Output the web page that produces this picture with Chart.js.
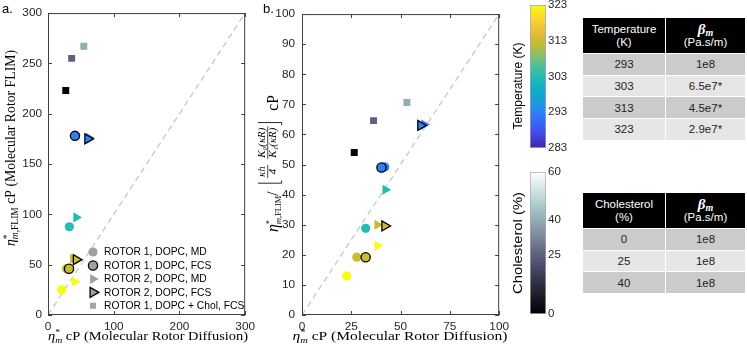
<!DOCTYPE html>
<html>
<head>
<meta charset="utf-8">
<title>Molecular rotor viscosity</title>
<script src="https://cdn.jsdelivr.net/npm/chart.js@4.4.1/dist/chart.umd.min.js"></script>
<style>
  html, body { margin: 0; padding: 0; background: #fff; }
  body { position: relative; width: 747px; height: 354px; overflow: hidden; font-family: "Liberation Sans", Arial, sans-serif; }
  canvas { position: absolute; }
  .tb { position: absolute; left: 582px; width: 163px; border-collapse: collapse; table-layout: fixed; font-size: 11.5px; color: #1e1e1e; }
  .tb td { padding: 0; text-align: center; vertical-align: middle; border: 1px solid #fff; }
  .tb tr.h td { background: #000; color: #fff; height: 35px; line-height: 12.5px; }
  .tb tr.d td { background: #cbcbcb; height: 20.7px; }
  .tb tr.l td { background: #e6e6e6; height: 20.7px; }
  .beta { font: bold italic 15px "Liberation Serif", serif; line-height: 13px; }
  .beta sub { font-size: 10px; vertical-align: -2px; line-height: 0; }
</style>
</head>
<body>
<canvas id="ca" width="260" height="354" style="left:0;top:0"></canvas>
<canvas id="cb" width="256" height="354" style="left:258px;top:0"></canvas>
<canvas id="c1" width="76" height="170" style="left:505px;top:-10px"></canvas>
<canvas id="c2" width="76" height="170" style="left:505px;top:162px"></canvas>
<table id="t1" class="tb" style="top:17px"></table>
<table id="t2" class="tb" style="top:192px"></table>
<script>
// temperatures (K) of the MD points, FCS points only at two of them
const temps = [293, 303, 313, 323];
const fcsTemps = [293, 313];
const cholPct = [0, 25, 40];

// panel a: FLIM viscosity vs diffusion viscosity (cP)
const r1mdAx = [42, 32.5, 28, 21];
const r1mdAy = [178, 87.7, 46, 25];
const r1fcsAx = [41, 32];
const r1fcsAy = [178, 46];
const r2mdAx = [62, 43, 38, 40.5];
const r2mdAy = [176, 97, 56, 33];
const r2fcsAx = [60.5, 43];
const r2fcsAy = [175, 55];
const cholAx = [27, 36, 54.5];
const cholAy = [223, 255, 267];

// panel b: corrected FLIM viscosity vs diffusion viscosity (cP)
const r1mdBx = [42, 32.3, 27.8, 22.7];
const r1mdBy = [49.2, 28.8, 19.2, 13];
const r1fcsBx = [40.3, 32.3];
const r1fcsBy = [49, 19.2];
const r2mdBx = [62, 42.3, 38.2, 38.2];
const r2mdBy = [63.3, 41.6, 30, 23];
const r2fcsBx = [60.2, 42];
const r2fcsBy = [63, 29.6];
const cholBx = [26.5, 36.3, 53.2];
const cholBy = [54, 64.6, 70.6];

const maxA = 300, maxB = 100;
const tempTicks = [283, 293, 303, 313, 323];
const cholTicks = [0, 25, 40, 60];

const legendLabels = ['ROTOR 1, DOPC, MD', 'ROTOR 1, DOPC, FCS', 'ROTOR 2, DOPC, MD', 'ROTOR 2, DOPC, FCS', 'ROTOR 1, DOPC + Chol, FCS'];

const tempRows = ['293', '303', '313', '323'];
const betaTemp = ['1e8', '6.5e7*', '4.5e7*', '2.9e7*'];
const cholRows = ['0', '25', '40'];
const betaChol = ['1e8', '1e8', '1e8'];

// ---- colour maps ----
const parulaStops = [[0, '#3e26a8'], [0.1, '#4648eb'], [0.2, '#3170fa'], [0.25, '#2f80f2'], [0.3, '#1e96e0'],
  [0.4, '#0aaec6'], [0.5, '#23bcb2'], [0.6, '#5dc28a'], [0.7, '#b0bd45'], [0.75, '#c9bc2f'],
  [0.8, '#e6b93a'], [0.9, '#fbd232'], [1, '#f9fb0e']];
function hexRgb(h) { return [1, 3, 5].map(i => parseInt(h.slice(i, i + 2), 16)); }
function parula(t) {
  for (let i = 1; i < parulaStops.length; i++) {
    if (t <= parulaStops[i][0]) {
      const t0 = parulaStops[i - 1][0], a = hexRgb(parulaStops[i - 1][1]), b = hexRgb(parulaStops[i][1]);
      const f = (t - t0) / (parulaStops[i][0] - t0);
      return 'rgb(' + a.map((v, k) => Math.round(v + (b[k] - v) * f)).join(',') + ')';
    }
  }
  return parulaStops[parulaStops.length - 1][1];
}
function bone(t) {
  const hr = Math.min(1, t / 0.375);
  const hg = Math.min(1, Math.max(0, (t - 0.375) / 0.375));
  const hb = Math.min(1, Math.max(0, (t - 0.75) / 0.25));
  return 'rgb(' + [(7 * t + hb) / 8, (7 * t + hg) / 8, (7 * t + hr) / 8].map(v => Math.round(v * 255)).join(',') + ')';
}
const tempColor = T => parula((T - tempTicks[0]) / (tempTicks[tempTicks.length - 1] - tempTicks[0]));
const cholColor = c => bone(c / cholTicks[cholTicks.length - 1]);

const txt = '#262626';
const tickFont = { family: '"Liberation Sans", Arial, sans-serif', size: 11.8 };
const serif = '"Liberation Serif", "Times New Roman", serif';

// ---- datasets ----
function pts(xs, ys) { return xs.map((x, i) => ({ x: x, y: ys[i] })); }
const sizes = { circle: 4.6, triangle: 5.8, rect: 4.9 };
function markers(xs, ys, cols, style, edge, order) {
  return {
    data: pts(xs, ys), order: order,
    pointStyle: style, rotation: style === 'triangle' ? 90 : 0,
    pointRadius: sizes[style], pointHoverRadius: sizes[style],
    backgroundColor: cols, borderColor: edge ? '#000' : cols,
    borderWidth: edge ? 1.3 : 0, hoverBorderWidth: edge ? 1.3 : 0
  };
}
function diag(max) {
  return { data: [{ x: 0, y: 0 }, { x: max, y: max }], showLine: true, order: 9,
    borderColor: '#c8c8c8', borderWidth: 1.3, borderDash: [6, 4], pointRadius: 0 };
}
function panel(max, r1md, r1fcs, r2md, r2fcs, chol) {
  const tc = temps.map(tempColor), fc = fcsTemps.map(tempColor), cc = cholPct.map(cholColor);
  return [
    diag(max),
    markers(r1md[0], r1md[1], tc, 'circle', false, 6),
    markers(r2md[0], r2md[1], tc, 'triangle', false, 5),
    markers(r1fcs[0], r1fcs[1], fc, 'circle', true, 3),
    markers(r2fcs[0], r2fcs[1], fc, 'triangle', true, 2),
    markers(chol[0], chol[1], cc, 'rect', false, 1)
  ];
}

function scales(max, xStep, yStep, yWidth, yPad) {
  return {
    x: { type: 'linear', min: 0, max: max,
      ticks: { stepSize: xStep, padding: 5, font: tickFont, color: txt, maxRotation: 0 },
      grid: { display: false, drawTicks: false }, border: { display: false },
      afterFit: s => { s.height = 39; } },
    y: { type: 'linear', min: 0, max: max,
      ticks: { stepSize: yStep, padding: yPad, font: tickFont, color: txt },
      grid: { display: false, drawTicks: false }, border: { display: false },
      afterFit: s => { s.width = yWidth; } }
  };
}

// ---- drawing helpers ----
const framePlugin = {
  id: 'frame',
  afterDatasetsDraw(chart) {
    const { ctx, chartArea: a, scales: { x, y } } = chart;
    ctx.save();
    ctx.strokeStyle = '#404040';
    ctx.lineWidth = 1;
    ctx.strokeRect(a.left + 0.5, a.top + 0.5, a.width - 1, a.height - 1);
    ctx.beginPath();
    x.ticks.forEach(t => {
      const p = Math.round(x.getPixelForValue(t.value)) + 0.5;
      ctx.moveTo(p, a.bottom); ctx.lineTo(p, a.bottom - 4);
      ctx.moveTo(p, a.top); ctx.lineTo(p, a.top + 4);
    });
    y.ticks.forEach(t => {
      const p = Math.round(y.getPixelForValue(t.value)) + 0.5;
      ctx.moveTo(a.left, p); ctx.lineTo(a.left + 4, p);
      ctx.moveTo(a.right, p); ctx.lineTo(a.right - 4, p);
    });
    ctx.stroke();
    ctx.restore();
  }
};

function fontOf(p) { return (p.it ? 'italic ' : '') + p.s + 'px ' + serif; }
// lays out a run of text pieces (sub/superscripts, fractions, brackets) and fits it to len px
function richText(ctx, parts, cx, by, len, rot, keepHeight) {
  let x = 0, stackX = null, stackW = 0;
  const placed = [];
  parts.forEach(p => {
    let w;
    ctx.font = fontOf(p);
    if (p.fr) w = Math.max(ctx.measureText(p.fr[0]).width, ctx.measureText(p.fr[1]).width) + 2;
    else if (p.br) w = 3;
    else w = ctx.measureText(p.t).width;
    const px = stackX !== null ? stackX : x;
    placed.push([p, px, w]);
    if (p.st) { stackX = px; stackW = w; x = px + w; }
    else if (stackX !== null) { x = stackX + Math.max(w, stackW); stackX = null; }
    else x = px + w;
    x += (p.g || 0);
  });
  const k = len / x;
  ctx.save();
  ctx.translate(cx, by);
  if (rot) ctx.rotate(rot);
  ctx.scale(k, keepHeight ? 1 : k);
  ctx.translate(-x / 2, 0);
  ctx.fillStyle = '#000';
  ctx.strokeStyle = '#000';
  ctx.textBaseline = 'alphabetic';
  placed.forEach(([p, px, w]) => {
    ctx.font = fontOf(p);
    if (p.fr) {
      ctx.textAlign = 'center';
      ctx.fillText(p.fr[0], px + w / 2, p.nd);
      ctx.fillText(p.fr[1], px + w / 2, p.dd);
      ctx.lineWidth = 0.6;
      ctx.beginPath(); ctx.moveTo(px, p.bar); ctx.lineTo(px + w, p.bar); ctx.stroke();
    } else if (p.br) {
      const lx = p.br === '[' ? px + 0.8 : px + 2.2, sx = p.br === '[' ? 2.2 : -2.2;
      ctx.lineWidth = 0.7;
      ctx.beginPath();
      ctx.moveTo(lx + sx, p.y0); ctx.lineTo(lx, p.y0); ctx.lineTo(lx, p.y1); ctx.lineTo(lx + sx, p.y1);
      ctx.stroke();
    } else {
      ctx.textAlign = 'left';
      ctx.fillText(p.t, px, p.dy || 0);
    }
  });
  ctx.restore();
}
function etaParts(sub, s, ss) {
  const p = [{ t: 'η', s: s, it: true }, { t: '*', s: ss, dy: -5, st: true }, { t: 'm', s: ss, it: true, dy: 2.5 }];
  if (sub) p.push({ t: ',FLIM', s: ss, dy: 2.5 });
  return p;
}

function marker(ctx, style, x, y, r, fill, edge) {
  ctx.beginPath();
  if (style === 'circle') ctx.arc(x, y, r, 0, Math.PI * 2);
  else if (style === 'triangle') {
    for (let k = 0; k < 3; k++) {
      const a = k * 2 * Math.PI / 3;
      if (k === 0) ctx.moveTo(x + r * Math.cos(a), y + r * Math.sin(a));
      else ctx.lineTo(x + r * Math.cos(a), y + r * Math.sin(a));
    }
    ctx.closePath();
  } else {
    const h = r * Math.SQRT1_2;
    ctx.rect(x - h, y - h, 2 * h, 2 * h);
  }
  ctx.fillStyle = fill;
  ctx.fill();
  if (edge) { ctx.lineWidth = 1.3; ctx.strokeStyle = '#000'; ctx.stroke(); }
}

const legendStyles = ['circle', 'circle', 'triangle', 'triangle', 'rect'];
const legendEdges = [false, true, false, true, false];

const textA = {
  id: 'textA',
  afterDraw(chart) {
    const ctx = chart.ctx;
    ctx.save();
    ctx.fillStyle = '#000';
    ctx.font = '13px "Liberation Sans", Arial, sans-serif';
    ctx.textBaseline = 'alphabetic';
    ctx.textAlign = 'left';
    ctx.fillText('a.', 2, 13);
    // legend
    ctx.font = '10.3px "Liberation Sans", Arial, sans-serif';
    ctx.textBaseline = 'middle';
    legendLabels.forEach((lab, i) => {
      const y = 252 + i * 13.45;
      const st = legendStyles[i];
      marker(ctx, st, 93, y, st === 'rect' ? 4.3 : sizes[st], st === 'rect' ? '#a6a6a6' : '#a0a0a0', legendEdges[i]);
      ctx.fillStyle = '#000';
      ctx.fillText(lab, 104, y + 0.5);
    });
    ctx.restore();
    richText(ctx, etaParts(false, 12.5, 8.5).concat([{ t: ' cP (Molecular Rotor Diffusion)', s: 12.5 }]), 148, 340, 200, 0, true);
    richText(ctx, etaParts(true, 13, 9).concat([{ t: ' cP (Molecular Rotor FLIM)', s: 13 }]), 15, 148, 196, -Math.PI / 2);
  }
};

const textB = {
  id: 'textB',
  afterDraw(chart) {
    const ctx = chart.ctx;
    ctx.save();
    ctx.fillStyle = '#000';
    ctx.font = '13px "Liberation Sans", Arial, sans-serif';
    ctx.textBaseline = 'alphabetic';
    ctx.fillText('b.', 5, 13);
    ctx.restore();
    richText(ctx, etaParts(false, 12.5, 8.5).concat([{ t: ' cP (Molecular Rotor Diffusion)', s: 12.5 }]), 142, 340, 215, 0, true);
    const lab = etaParts(true, 13, 7).concat([
      { t: '/', s: 13, g: 6 },
      { br: '[', s: 9, y0: -20, y1: 3, g: 2 },
      { fr: ['κh', '4'], s: 9, it: true, bar: -8.5, nd: -11, dd: -1.5, g: 5 },
      { fr: ['K₀(κR)', 'K₁(κR)'], s: 9, it: true, bar: -8.5, nd: -11, dd: -1.5, g: 1 },
      { br: ']', s: 9, y0: -20, y1: 3, g: 9 },
      { t: 'cP', s: 13 }
    ]);
    richText(ctx, lab, 20, 163.5, 137, -Math.PI / 2);
  }
};

function baseOptions(max, xs, ys, yw, yp, pad) {
  return {
    responsive: false, animation: false, devicePixelRatio: 1, events: [],
    layout: { padding: pad },
    plugins: { legend: { display: false }, tooltip: { enabled: false } },
    scales: scales(max, xs, ys, yw, yp)
  };
}

new Chart(document.getElementById('ca'), {
  type: 'scatter',
  data: { datasets: panel(maxA, [r1mdAx, r1mdAy], [r1fcsAx, r1fcsAy], [r2mdAx, r2mdAy], [r2fcsAx, r2fcsAy], [cholAx, cholAy]) },
  options: baseOptions(maxA, 100, 50, 48, 6, { top: 8, right: 12, left: 0, bottom: 0 }),
  plugins: [framePlugin, textA]
});

new Chart(document.getElementById('cb'), {
  type: 'scatter',
  data: { datasets: panel(maxB, [r1mdBx, r1mdBy], [r1fcsBx, r1fcsBy], [r2mdBx, r2mdBy], [r2fcsBx, r2fcsBy], [cholBx, cholBy]) },
  options: baseOptions(maxB, 25, 10, 44, 7, { top: 8, right: 12, left: 0, bottom: 0 }),
  plugins: [framePlugin, textB]
});

// ---- colour bars ----
function gradient(chart, cmap) {
  const a = chart.chartArea;
  if (!a) return '#888';
  const g = chart.ctx.createLinearGradient(0, a.bottom, 0, a.top);
  for (let i = 0; i <= 24; i++) g.addColorStop(i / 24, cmap(i / 24));
  return g;
}
function colorbar(id, ticks, cmap, label, labelY, labelLen, pad) {
  const lo = ticks[0], hi = ticks[ticks.length - 1];
  new Chart(document.getElementById(id), {
    type: 'bar',
    data: { labels: [label], datasets: [{ data: [[lo, hi]], backgroundColor: c => gradient(c.chart, cmap),
      borderColor: '#a6a6bf', borderWidth: 1, borderSkipped: false, barPercentage: 1, categoryPercentage: 1 }] },
    options: {
      responsive: false, animation: false, devicePixelRatio: 1, events: [],
      layout: { padding: pad },
      plugins: { legend: { display: false }, tooltip: { enabled: false } },
      scales: {
        x: { display: false },
        y: { position: 'right', min: lo, max: hi,
          afterBuildTicks: s => { s.ticks = ticks.map(v => ({ value: v })); },
          ticks: { padding: 2, font: { family: tickFont.family, size: 11.5 }, color: txt, autoSkip: false },
          grid: { display: false, drawTicks: false }, border: { display: false },
          afterFit: s => { s.width = 35; } }
      }
    },
    plugins: [{
      id: 'cbLabel',
      afterDraw(chart) {
        const ctx = chart.ctx;
        ctx.save();
        ctx.font = '12.5px "Liberation Sans", Arial, sans-serif';
        const w = ctx.measureText(label).width;
        ctx.translate(17, labelY);
        ctx.rotate(-Math.PI / 2);
        ctx.scale(labelLen / w, 1);
        ctx.fillStyle = '#000';
        ctx.textAlign = 'center';
        ctx.textBaseline = 'alphabetic';
        ctx.fillText(label, 0, 0);
        ctx.restore();
      }
    }]
  });
}
colorbar('c1', tempTicks, parula, 'Temperature (K)', 96, 87, { left: 25, top: 15, right: 0, bottom: 12 });
colorbar('c2', cholTicks, bone, 'Cholesterol (%)', 81, 102, { left: 25, top: 10, right: 0, bottom: 18 });

// ---- tables ----
function buildTable(id, head, rows, betas) {
  let h = '<colgroup><col style="width:83px"><col style="width:80px"></colgroup>';
  h += '<tr class="h"><td>' + head + '</td><td><div class="beta">β<sub>m</sub></div><div>(Pa.s/m)</div></td></tr>';
  rows.forEach((r, i) => {
    h += '<tr class="' + (i % 2 ? 'l' : 'd') + '"><td>' + r + '</td><td>' + betas[i] + '</td></tr>';
  });
  document.getElementById(id).innerHTML = h;
}
buildTable('t1', 'Temperature<br>(K)', tempRows, betaTemp);
buildTable('t2', 'Cholesterol<br>(%)', cholRows, betaChol);
</script>
</body>
</html>
